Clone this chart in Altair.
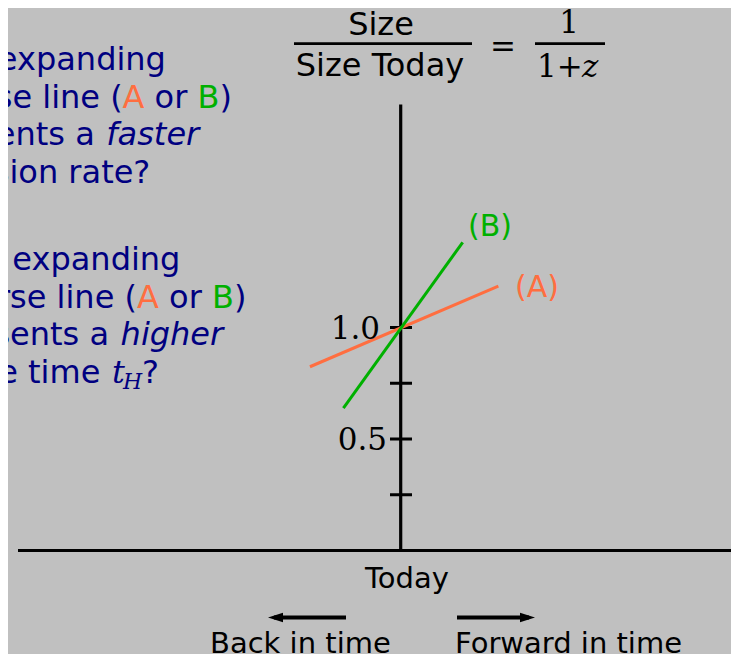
import altair as alt
import pandas as pd

# ---------------- data ----------------
series = ["A", "B"]
line_time = {"A": [-0.407, 0.438], "B": [-0.257, 0.278]}     # time relative to today
line_size = {"A": [0.824, 1.186], "B": [0.638, 1.382]}       # size / size today
line_colors = {"A": "#ff6e40", "B": "#00b000"}

tick_values = [0.25, 0.5, 0.75, 1.0]
tick_label_values = [1.0, 0.5]
tick_label_texts = ["1.0", "0.5"]
size_axis_top = 2.0

NAVY = "#000080"
BLACK = "#000000"
BG = "#c0c0c0"

# ---------------- frame (screen pixel <-> data units) ----------------
UNIT = 223.0
X0, Y0 = 400.7, 550.5
W, H = 723, 646


def tx(sx):
    return (sx - X0) / UNIT


def ty(sy):
    return (Y0 - sy) / UNIT


xs = alt.Scale(domain=[tx(8), tx(8 + W)], nice=False, zero=False)
ys = alt.Scale(domain=[ty(8 + H), ty(8)], nice=False, zero=False)
X = lambda f: alt.X(f, scale=xs, axis=None)
Y = lambda f: alt.Y(f, scale=ys, axis=None)

# ---------------- lines ----------------
rows = []
for s in series:
    for t, v in zip(line_time[s], line_size[s]):
        rows.append({"series": s, "time": t, "size": v, "color": line_colors[s]})
lines_df = pd.DataFrame(rows)
lines = alt.Chart(lines_df).mark_line(strokeWidth=3).encode(
    x=X("time:Q"), y=Y("size:Q"), detail="series:N",
    color=alt.Color("color:N", scale=None))

# ---------------- axes & ticks ----------------
axis_df = pd.DataFrame([
    {"t": tx(18), "t2": tx(760), "s": 0.0, "s2": 0.0},
    {"t": 0.0, "t2": 0.0, "s": 0.0, "s2": size_axis_top},
])
axes = alt.Chart(axis_df).mark_rule(strokeWidth=3.2, color=BLACK).encode(
    x=X("t:Q"), x2="t2:Q", y=Y("s:Q"), y2="s2:Q")

tick_df = pd.DataFrame({"s": tick_values})
tick_df["t"] = tx(390)
tick_df["t2"] = tx(412)
ticks = alt.Chart(tick_df).mark_rule(strokeWidth=3, color=BLACK).encode(
    x=X("t:Q"), x2="t2:Q", y=Y("s:Q"))

# fraction bars and arrow shafts (screen-placed annotations)
bar_df = pd.DataFrame([
    {"t": tx(294), "t2": tx(472), "s": ty(43.7), "w": 2.8},
    {"t": tx(535), "t2": tx(605), "s": ty(43.7), "w": 2.8},
    {"t": tx(274), "t2": tx(346), "s": ty(617.5), "w": 4},
    {"t": tx(457), "t2": tx(529), "s": ty(617.5), "w": 4},
])
bars = alt.Chart(bar_df).mark_rule(color=BLACK).encode(
    x=X("t:Q"), x2="t2:Q", y=Y("s:Q"),
    strokeWidth=alt.StrokeWidth("w:Q", scale=None))

head_l = alt.Chart(pd.DataFrame({"t": [tx(275.5)], "s": [ty(617.5)]})).mark_point(
    shape="M-1,0L1,-0.62L1,0.62Z", size=225, filled=True, opacity=1, color=BLACK
).encode(x=X("t:Q"), y=Y("s:Q"))
head_r = alt.Chart(pd.DataFrame({"t": [tx(527.5)], "s": [ty(617.5)]})).mark_point(
    shape="M1,0L-1,-0.62L-1,0.62Z", size=225, filled=True, opacity=1, color=BLACK
).encode(x=X("t:Q"), y=Y("s:Q"))


# ---------------- texts ----------------
def text_layer(rows, font="DejaVu Sans", size=32, style="normal", align="left"):
    df = pd.DataFrame(rows, columns=["sx", "sy", "label", "color"])
    df["t"] = df["sx"].map(tx)
    df["s"] = df["sy"].map(ty)
    return alt.Chart(df).mark_text(
        font=font, fontSize=size, fontStyle=style, align=align, baseline="alphabetic"
    ).encode(x=X("t:Q"), y=Y("s:Q"), text="label:N",
             color=alt.Color("color:N", scale=None))


q_plain = text_layer([
    (-111, 70, "Which expanding", NAVY),
    (-105.5, 108, "universe line (", NAVY),
    (154.6, 108, "or", NAVY),
    (219.5, 108, ")", NAVY),
    (-105.5, 145, "represents a", NAVY),
    (-105.5, 183, "expansion rate?", NAVY),
    (-96.5, 270, "Which expanding", NAVY),
    (-91.2, 308, "universe line (", NAVY),
    (169.1, 308, "or", NAVY),
    (233.9, 308, ")", NAVY),
    (-91.2, 345, "represents a", NAVY),
    (-95.7, 383, "Hubble time", NAVY),
    (142, 383, "?", NAVY),
    (122.5, 108, "A", line_colors["A"]),
    (197.5, 108, "B", line_colors["B"]),
    (137, 308, "A", line_colors["A"]),
    (212, 308, "B", line_colors["B"]),
])
q_italic = text_layer([
    (106.3, 145, "faster", NAVY),
    (120.6, 345, "higher", NAVY),
], style="italic")
q_math_t = text_layer([(112, 383, "t", NAVY)], font="DejaVu Serif", style="italic", size=32)
q_math_h = text_layer([(123, 389, "H", NAVY)], font="DejaVu Serif", style="italic", size=22)

title_sans = text_layer([
    (381, 35, "Size", BLACK),
    (380, 76, "Size Today", BLACK),
], align="center")
title_serif_c = text_layer([
    (503, 57, "=", BLACK),
    (569, 33, "1", BLACK),
], font="DejaVu Serif", size=31, align="center")
title_serif_l = text_layer([(537, 77, "1+", BLACK)], font="DejaVu Serif", size=31)
title_z = text_layer([(582, 77, "z", BLACK)], font="DejaVu Serif", size=31, style="italic")

tick_lab = text_layer(
    [(380 + 7 * (v == 0.5), Y0 - v * UNIT + 11, lab, BLACK)
     for v, lab in zip(tick_label_values, tick_label_texts)],
    font="DejaVu Serif", size=31, align="right")

series_lab = text_layer([
    (468, 236, "(B)", line_colors["B"]),
    (515, 297, "(A)", line_colors["A"]),
], size=30)

bottom = text_layer([
    (365, 588, "Today", BLACK),
    (210, 653, "Back in time", BLACK),
    (455, 653, "Forward in time", BLACK),
], size=29)

chart = alt.layer(
    axes, ticks, bars, head_l, head_r, lines,
    q_plain, q_italic, q_math_t, q_math_h,
    title_sans, title_serif_c, title_serif_l, title_z,
    tick_lab, series_lab, bottom,
).properties(
    width=W, height=H, padding=0, background=BG,
    autosize=alt.AutoSizeParams(type="none"),
).configure_view(stroke=None)

chart.save("out.html", embed_options={"renderer": "svg", "actions": False})
